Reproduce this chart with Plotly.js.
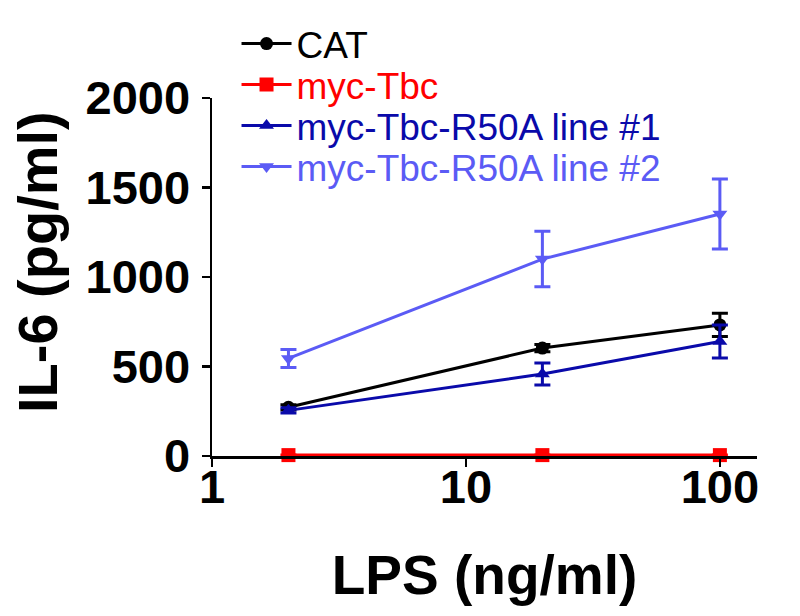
<!DOCTYPE html>
<html>
<head>
<meta charset="utf-8">
<script src="https://cdn.plot.ly/plotly-3.0.1.min.js"></script>
<style>html,body{margin:0;padding:0;background:#fff;}#chart{width:800px;height:616px;}</style>
</head>
<body>
<div id="chart"></div>
<script>
// ---- data ----
const lps = [2, 20, 100];
const seriesNames = ["CAT", "myc-Tbc", "myc-Tbc-R50A line #1", "myc-Tbc-R50A line #2"];
const catVals = [272, 603, 732];
const catErr  = [15, 20, 65];
const tbcVals = [5, 5, 5];
const tbcErr  = [0, 0, 0];
const r1Vals  = [255, 458, 640];
const r1Err   = [15, 62, 92];
const r2Vals  = [545, 1100, 1352];
const r2Err   = [50, 155, 195];
const yTickVals = [0, 500, 1000, 1500, 2000];
const xTickVals = [1, 10, 100];
const xTickText = ["1", "10", "100"];
const xTitle = "LPS (ng/ml)";
const yTitle = "IL-6 (pg/ml)";

const colors = ["#000000", "#FF0000", "#0A0AAA", "#5B5BF5"];
const symbols = ["circle", "square", "triangle-up", "triangle-down"];
const vals = [catVals, tbcVals, r1Vals, r2Vals];
const errs = [catErr, tbcErr, r1Err, r2Err];
const legendIds = ["legend", "legend2", "legend3", "legend4"];

const traces = seriesNames.map((name, i) => ({
  type: "scatter",
  mode: "lines+markers",
  name: name,
  x: lps,
  y: vals[i],
  legend: legendIds[i],
  cliponaxis: false,
  line: {color: colors[i], width: 3},
  marker: {color: colors[i], symbol: symbols[i], size: i === 1 ? 14 : 13},
  error_y: {type: "data", array: errs[i], visible: true, color: colors[i], thickness: 3, width: 8}
}));

const fontFam = "Arial, 'Liberation Sans', sans-serif";
const W = 800, H = 616, L = 212, R = 43, B = 160, T = 20;
const areaW = W - L - R;
const areaH = H - B - T;              // plot area 20..456 px
const bottomPx = H - B;               // 456
const axisTopPx = 98;                 // where the y axis (2000) ends
const rowPx = [44, 85, 126, 167];     // legend row centres, px from top
const rowY = rowPx.map(p => (bottomPx - p) / areaH);

const layout = {
  width: W, height: H,
  margin: {l: L, r: R, t: T, b: B},
  paper_bgcolor: "#ffffff",
  plot_bgcolor: "#ffffff",
  showlegend: true,
  font: {family: fontFam, color: "#000"},
  xaxis: {
    type: "log",
    range: [0, Math.log10(140)],
    tickvals: xTickVals,
    ticktext: xTickText,
    ticks: "outside", ticklen: 8, tickwidth: 2.5, tickcolor: "#000",
    showline: true, linecolor: "#000", linewidth: 2.5,
    showgrid: false, zeroline: false,
    ticklabelstandoff: -20,
    tickfont: {family: fontFam, size: 47, weight: 700, color: "#000"},
    title: {text: xTitle, font: {family: fontFam, size: 55, weight: 700, color: "#000"}, standoff: 44}
  },
  yaxis: {
    domain: [0, (bottomPx - axisTopPx) / areaH],
    range: [0, 2000],
    tickvals: yTickVals,
    ticks: "outside", ticklen: 8, tickwidth: 2.5, tickcolor: "#000",
    showline: true, linecolor: "#000", linewidth: 2.5,
    showgrid: false, zeroline: false,
    ticklabelstandoff: 2,
    tickfont: {family: fontFam, size: 47, weight: 700, color: "#000"}
  },
  annotations: [{
    text: yTitle, textangle: -90, showarrow: false,
    xref: "paper", yref: "paper",
    x: (37 - L) / areaW, y: (bottomPx - 262) / areaH,
    xanchor: "center", yanchor: "middle",
    font: {family: fontFam, size: 56, weight: 700, color: "#000"}
  }]
};
legendIds.forEach((id, i) => {
  layout[id] = {
    x: 0.045, xanchor: "left",
    y: rowY[i], yanchor: "middle",
    bgcolor: "rgba(0,0,0,0)",
    borderwidth: 0,
    itemwidth: 50,
    font: {family: fontFam, size: 37, color: colors[i]}
  };
});

Plotly.newPlot("chart", traces, layout, {displayModeBar: false, staticPlot: true});
</script>
</body>
</html>
